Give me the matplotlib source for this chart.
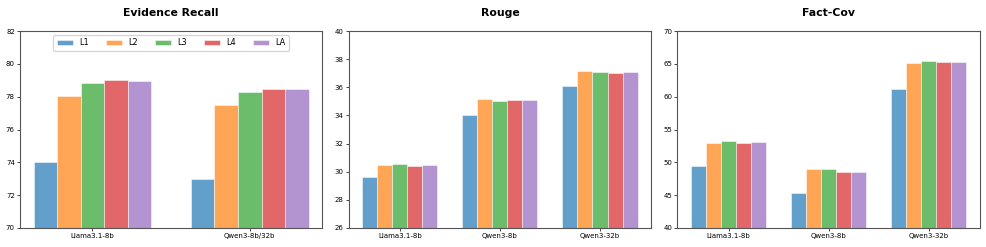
import numpy as np
import matplotlib.pyplot as plt

levels = ['L1', 'L2', 'L3', 'L4', 'LA']
colors = ['tab:blue', 'tab:orange', 'tab:green', 'tab:red', 'tab:purple']

# Evidence Recall
er_models = ['Llama3.1-8b', 'Qwen3-8b/32b']
er_vals = {
    'L1': [74.0, 72.97],
    'L2': [78.05, 77.5],
    'L3': [78.85, 78.28],
    'L4': [79.0, 78.47],
    'LA': [78.93, 78.5],
}

# Rouge
rouge_models = ['Llama3.1-8b', 'Qwen3-8b', 'Qwen3-32b']
rouge_vals = {
    'L1': [29.6, 34.05, 36.12],
    'L2': [30.47, 35.15, 37.15],
    'L3': [30.58, 35.05, 37.12],
    'L4': [30.42, 35.12, 37.05],
    'LA': [30.47, 35.12, 37.12],
}

# Fact-Cov
fc_models = ['Llama3.1-8b', 'Qwen3-8b', 'Qwen3-32b']
fc_vals = {
    'L1': [49.5, 45.4, 61.2],
    'L2': [52.9, 49.0, 65.1],
    'L3': [53.3, 49.05, 65.5],
    'L4': [53.0, 48.6, 65.3],
    'LA': [53.1, 48.5, 65.3],
}

panels = [
    ('Evidence Recall', er_models, er_vals, (70, 82), 2),
    ('Rouge', rouge_models, rouge_vals, (26, 40), 2),
    ('Fact-Cov', fc_models, fc_vals, (40, 70), 5),
]

fig, axes = plt.subplots(1, 3, figsize=(9.87, 2.47), dpi=100)
fig.subplots_adjust(left=0.02, right=0.993, top=0.874, bottom=0.077, wspace=0.086)

width = 0.15
for i, (ax, (title, models, vals, ylim, step)) in enumerate(zip(axes, panels)):
    x = np.arange(len(models))
    for j, lv in enumerate(levels):
        ax.bar(x + (j - 2) * width, vals[lv], width, color=colors[j], alpha=0.7,
               edgecolor='white', linewidth=0.5, label=lv)
    ax.set_xticks(x)
    ax.set_xticklabels(models)
    ax.set_ylim(*ylim)
    ax.set_yticks(np.arange(ylim[0], ylim[1] + 0.1, step))
    ax.set_title(title, fontsize=7.8, fontweight='bold', pad=11)
    ax.tick_params(labelsize=5, length=2, width=0.5, pad=1.5)
    for s in ax.spines.values():
        s.set_linewidth(0.8)
        s.set_color('#555555')
    if i == 0:
        ax.legend(loc='upper center', ncol=5, fontsize=5.9, framealpha=0.8)

fig.savefig('out.png')
